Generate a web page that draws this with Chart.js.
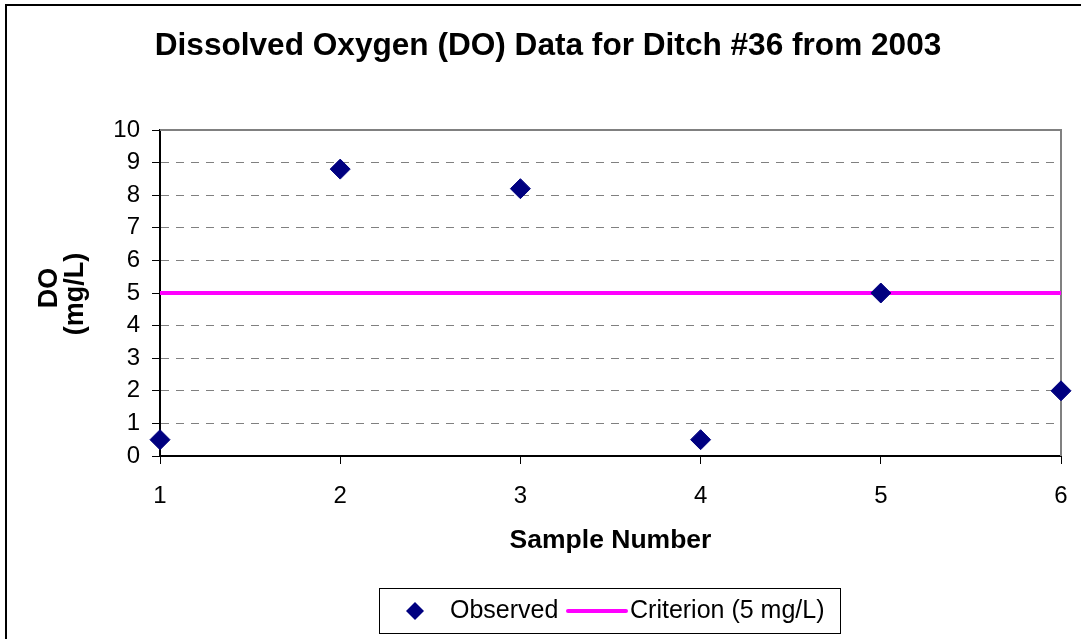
<!DOCTYPE html>
<html>
<head>
<meta charset="utf-8">
<script src="https://cdn.jsdelivr.net/npm/chart.js@4.4.1/dist/chart.umd.min.js"></script>
<style>
  html, body { margin: 0; padding: 0; background: #fff; }
  #wrap { width: 1081px; height: 639px; position: relative; }
</style>
</head>
<body>
<div id="wrap"><canvas id="doChart" width="1081" height="639"></canvas></div>
<script>
'use strict';

// ---------------------------------------------------------------------------
// Data
// ---------------------------------------------------------------------------

const sampleNumbers = [1, 2, 3, 4, 5, 6];
const observedDO    = [0.5, 8.8, 8.2, 0.5, 5.0, 2.0];
const criterionX    = [1, 6];
const criterionDO   = [5, 5];
const yTickValues   = [0, 1, 2, 3, 4, 5, 6, 7, 8, 9, 10];

const chartTitle  = 'Dissolved Oxygen (DO) Data for Ditch #36 from 2003';
const xTitle      = 'Sample Number';
const yTitleLines = ['DO', '(mg/L)'];
const labelObs    = 'Observed';
const labelCrit   = 'Criterion (5 mg/L)';

const FONT   = '"Liberation Sans", Arial, sans-serif';
const NAVY   = '#000080';
const PINK   = '#ff00ff';
const GRAY   = '#808080';

// ---------------------------------------------------------------------------
// Decorations: frame, plot border, titles, legend
// ---------------------------------------------------------------------------

const frame = {
  id: 'frame',
  beforeDatasetsDraw(chart) {
    const { ctx, chartArea: a } = chart;
    ctx.save();
    ctx.strokeStyle = GRAY;
    ctx.lineWidth = 2;
    ctx.beginPath();
    ctx.moveTo(a.left, a.top);
    ctx.lineTo(a.right, a.top);
    ctx.lineTo(a.right, a.bottom);
    ctx.stroke();
    ctx.restore();
  },
  afterDraw(chart) {
    const { ctx, chartArea: a } = chart;
    ctx.save();

    // outer border
    ctx.strokeStyle = '#000';
    ctx.lineWidth = 2;
    ctx.strokeRect(6, 5, 1100, 660);

    ctx.fillStyle = '#000';
    ctx.textBaseline = 'middle';

    // title
    ctx.textAlign = 'center';
    ctx.font = `bold 31.6px ${FONT}`;
    ctx.fillText(chartTitle, 548, 46);

    // x title
    ctx.font = `bold 26.5px ${FONT}`;
    ctx.fillText(xTitle, (a.left + a.right) / 2, 541);

    // y title (rotated)
    ctx.font = `bold 27px ${FONT}`;
    const yMid = (a.top + a.bottom) / 2;
    [50, 76].forEach((x, i) => {
      ctx.save();
      ctx.translate(x, yMid - 5 + i * 6);
      ctx.rotate(-Math.PI / 2);
      ctx.fillText(yTitleLines[i], 0, 0);
      ctx.restore();
    });

    // legend
    ctx.lineWidth = 1;
    ctx.strokeStyle = '#000';
    ctx.strokeRect(379.5, 588.5, 461, 45);
    const ly = 611;
    ctx.fillStyle = NAVY;
    ctx.beginPath();
    ctx.moveTo(415 - 9, ly);
    ctx.lineTo(415, ly - 9);
    ctx.lineTo(415 + 9, ly);
    ctx.lineTo(415, ly + 9);
    ctx.closePath();
    ctx.fill();

    ctx.strokeStyle = PINK;
    ctx.lineWidth = 4;
    ctx.lineCap = 'round';
    ctx.beginPath();
    ctx.moveTo(568, ly);
    ctx.lineTo(626, ly);
    ctx.stroke();

    ctx.fillStyle = '#000';
    ctx.textAlign = 'left';
    ctx.font = `25px ${FONT}`;
    ctx.fillText(labelObs, 450, ly);
    ctx.fillText(labelCrit, 630, ly);

    ctx.restore();
  },
};

// ---------------------------------------------------------------------------
// Chart
// ---------------------------------------------------------------------------

const ctx = document.getElementById('doChart').getContext('2d');

new Chart(ctx, {
  type: 'scatter',
  data: {
    datasets: [
      {
        label:           labelObs,
        data:            sampleNumbers.map((x, i) => ({ x, y: observedDO[i] })),
        pointStyle:      'rectRot',
        pointRadius:     10,
        pointBorderWidth: 1,
        backgroundColor: NAVY,
        borderColor:     NAVY,
        showLine:        false,
        clip:            false,
      },
      {
        label:       labelCrit,
        data:        criterionX.map((x, i) => ({ x, y: criterionDO[i] })),
        showLine:    true,
        borderColor: PINK,
        borderWidth: 4,
        pointRadius: 0,
        clip:        false,
      },
    ],
  },
  options: {
    responsive: false,
    animation: false,
    events: [],
    layout: { padding: { top: 130, right: 20, bottom: 0, left: 0 } },
    plugins: {
      legend:  { display: false },
      title:   { display: false },
      tooltip: { enabled: false },
    },
    scales: {
      x: {
        type: 'linear',
        min: 1,
        max: 6,
        afterFit: s => {
          s.height = 183;
          s.paddingLeft = 0;
          s.paddingRight = 0;
        },
        afterBuildTicks: s => { s.ticks = sampleNumbers.map(v => ({ value: v })); },
        border: { display: true, color: '#000', width: 2 },
        grid: {
          drawOnChartArea: false,
          drawTicks: true,
          tickLength: 8,
          tickColor: '#000',
          tickWidth: 1,
        },
        ticks: {
          color: '#000',
          font: { family: FONT, size: 24 },
          padding: 18,
          maxRotation: 0,
        },
      },
      y: {
        min: 0,
        max: 10,
        afterFit: s => {
          s.width = 160;
          s.paddingTop = 0;
          s.paddingBottom = 0;
        },
        afterBuildTicks: s => { s.ticks = yTickValues.map(v => ({ value: v })); },
        border: { display: true, color: '#000', width: 2, dash: [8, 7] },
        grid: {
          color: c => (c.tick && (c.tick.value === 0 || c.tick.value === 10)) ? 'rgba(0,0,0,0)' : GRAY,
          lineWidth: 1,
          drawTicks: true,
          tickLength: 8,
          tickColor: '#000',
          tickWidth: 1,
          tickBorderDash: [],
        },
        ticks: {
          color: '#000',
          font: { family: FONT, size: 24 },
          padding: 12,
        },
      },
    },
  },
  plugins: [frame],
});
</script>
</body>
</html>
